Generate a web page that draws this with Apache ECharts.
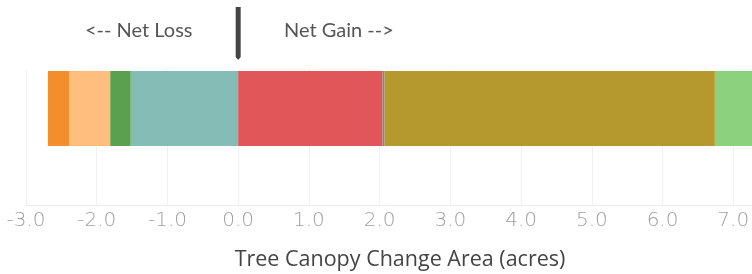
<!DOCTYPE html>
<html>
<head>
<meta charset="utf-8">
<script src="https://cdn.jsdelivr.net/npm/echarts@6/dist/echarts.min.js"></script>
<style>
  html, body { margin: 0; padding: 0; background: #fff; }
  #chart { width: 752px; height: 274px; }
</style>
</head>
<body>
<div id="chart"></div>
<script>
  // one stacked bar, losses stack left of zero, gains right
  const categories = ['Tree Canopy']
  const segmentNames = ['Loss D', 'Loss C', 'Loss B', 'Loss A', 'Gain A', 'Gain B', 'Gain C', 'Gain D']
  const segmentValues = [-1.52, -0.29, -0.58, -0.30, 2.04, 0.03, 4.67, 1.05]
  const segmentColors = ['#86bcb6', '#59a14f', '#ffbe7d', '#f28e2b', '#e15759', '#8d8582', '#b6992d', '#8cd17d']
  const axisMin = -3
  const axisMax = 8
  const referenceValue = 0
  const annotations = ['<-- Net Loss', 'Net Gain -->']

  const chart = echarts.init(document.getElementById('chart'))

  const series = segmentNames.map((name, i) => {
    const s = {
      name: name,
      type: 'bar',
      stack: 'total',
      xAxisIndex: 0,
      yAxisIndex: 0,
      barWidth: '100%',
      itemStyle: { color: segmentColors[i] },
      emphasis: { disabled: true },
      data: [segmentValues[i]]
    }
    if (i === 0) {
      s.markPoint = {
        silent: true,
        symbol: 'path://M0,0 L5,0 L5,50 L2.5,53 L0,50 Z',
        symbolSize: [5, 53],
        symbolOffset: [0, -75],
        itemStyle: { color: '#454545' },
        label: { show: false },
        data: [{ coord: [referenceValue, categories[0]] }]
      }
    }
    return s
  })

  chart.setOption({
    animation: false,
    grid: [
      { left: 26, right: -52, top: 71, height: 75, outerBoundsMode: 'none', containLabel: false },
      { left: 26, right: -52, top: 70, bottom: 69, outerBoundsMode: 'none', containLabel: false }
    ],
    xAxis: [
      { gridIndex: 0, type: 'value', min: axisMin, max: axisMax, show: false },
      {
        gridIndex: 1,
        type: 'value',
        min: axisMin,
        max: axisMax,
        interval: 1,
        axisLine: { show: true, lineStyle: { color: '#ececec' } },
        axisTick: { show: false },
        splitLine: { show: true, lineStyle: { color: '#f0f0f0' } },
        axisLabel: {
          color: '#a0a0a0',
          fontFamily: 'DejaVu Sans',
          fontWeight: 200,
          fontSize: 20,
          margin: 6,
          formatter: v => v.toFixed(1)
        },
        name: 'Tree Canopy Change Area (acres)',
        nameLocation: 'middle',
        nameGap: 44,
        nameTextStyle: {
          color: '#444',
          fontFamily: 'Open Sans',
          fontSize: 21.5,
          padding: [0, 30, 0, 0]
        }
      }
    ],
    yAxis: [
      { gridIndex: 0, type: 'category', data: categories, show: false },
      { gridIndex: 1, type: 'category', data: categories, show: false }
    ],
    graphic: [
      {
        type: 'text', left: 85, top: 21,
        style: { text: annotations[0], fill: '#555', font: '20px Lato' }
      },
      {
        type: 'text', left: 284, top: 21,
        style: { text: annotations[1], fill: '#555', font: '20px Lato' }
      }
    ],
    series: series
  })
</script>
</body>
</html>
